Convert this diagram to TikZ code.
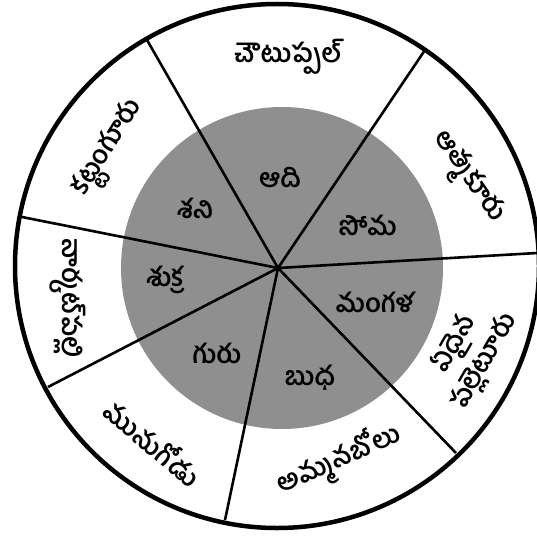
\documentclass[tikz,border=0pt]{standalone}
\usepackage{fontspec}
\newfontfamily\tel[Script=Telugu]{Hind Guntur}
\begin{document}
\begin{tikzpicture}[x=1pt,y=-1pt,
  spoke/.style={line width=2.6pt},
  rim/.style={line width=4.5pt},
  outerlbl/.style={font=\tel\bfseries\fontsize{26}{35}\selectfont, align=center, inner sep=0pt},
  innerlbl/.style={font=\tel\bfseries\fontsize{26}{30}\selectfont, inner sep=0pt}]
\useasboundingbox (0,0) rectangle (537,540);
\fill[white] (0,0) rectangle (537,540);
\fill[black!44] (282,268) circle[radius=161pt];
\coordinate (C) at (278,268);
\coordinate (r1) at (147,40);
\coordinate (r2) at (425,50);
\coordinate (r3) at (537,253);
\coordinate (r4) at (456,453);
\coordinate (r5) at (225,520);
\coordinate (r6) at (48,387);
\coordinate (r7) at (22,217);
\foreach \p in {r1,r2,r3,r4,r5,r6,r7} \draw[spoke] (C) -- (\p);
\draw[rim] (277,266) circle[radius=262pt];
% outer labels
\node[outerlbl] (chou) at (288,57) {చౌటుప్పల్};
\node[outerlbl, rotate=-55] (atma) at (467,178) {ఆత్మకూరు};
\node[outerlbl, rotate=60] (edaina) at (470,353) {ఏదైన\\పల్లెటూరు};
\node[outerlbl, rotate=24] (amma) at (339,461) {అమ్మనబోలు};
\node[outerlbl, rotate=-40] (munu) at (154,442) {మునుగోడు};
\node[outerlbl, rotate=-90] (nark) at (68,298) {నార్కట్‌పల్లి};
\node[outerlbl, rotate=58] (katt) at (110,149) {కట్టంగూరు};
% inner labels
\node[innerlbl] (aadi) at (280,178) {ఆది};
\node[innerlbl] (soma) at (368,225) {సోమ};
\node[innerlbl] (mang) at (375,302) {మంగళ};
\node[innerlbl] (budha) at (310,378) {బుధ};
\node[innerlbl] (guru) at (217,353) {గురు};
\node[innerlbl] (shuk) at (165,280) {శుక్ర};
\node[innerlbl] (shani) at (195,208) {శని};
\end{tikzpicture}
\end{document}
